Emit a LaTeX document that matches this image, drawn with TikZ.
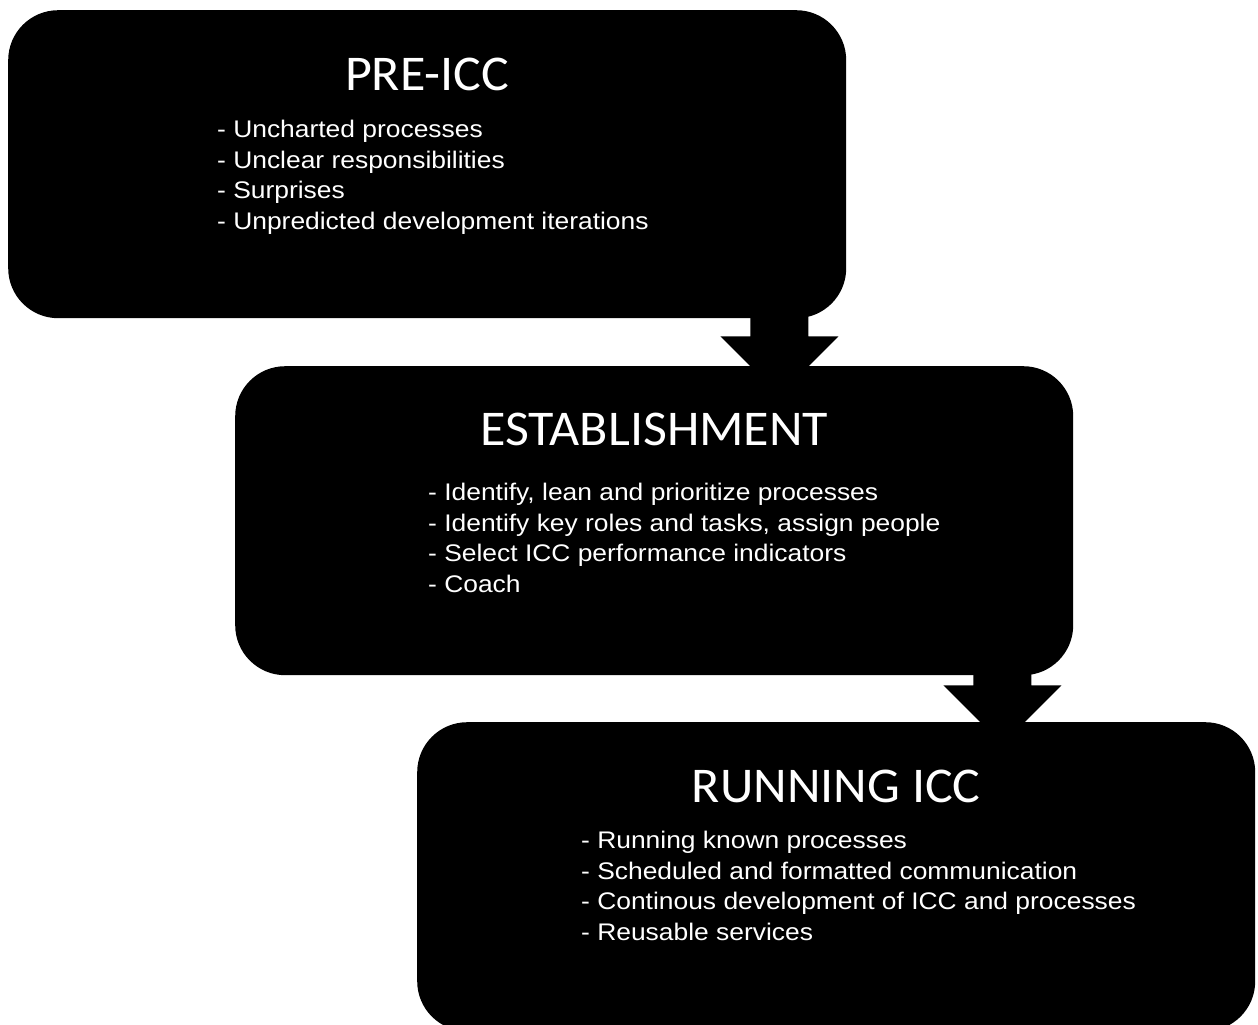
\documentclass[tikz,border=0pt]{standalone}
\usepackage{fontspec}
\setmainfont{Liberation Sans}
\newfontfamily\titlefont[FakeStretch=1.04]{Carlito}
\newfontfamily\itemfont[FakeStretch=1.10]{Liberation Sans}
\usetikzlibrary{calc}
\begin{document}
\begin{tikzpicture}[x=1pt,y=-1pt,
  stage/.style={fill=black, rounded corners=50pt, minimum width=838pt,
    minimum height=309pt, inner sep=0pt, anchor=north west},
  stagetitle/.style={text=white, inner sep=0pt, anchor=base,
    font=\titlefont\fontsize{50}{60}\selectfont},
  items/.style={text=white, inner sep=0pt, align=left, anchor=base west,
    font=\itemfont\fontsize{24}{30.5}\selectfont},
  blockarrow/.pic={\fill[black] (-29,0) -- (-29,38) -- (-59,38) -- (0,97)
    -- (59,38) -- (29,38) -- (29,0) -- cycle;}]
\useasboundingbox (0,0) rectangle (1258,1025);
\clip (0,0) rectangle (1258,1025);

% stages
\node[stage, minimum height=308pt] (pre) at (8,10) {};
\node[stage] (est) at (235,366) {};
\node[stage] (run) at (417,722) {};

% block arrows between the stages
\coordinate (a1) at ($(pre.south east)+(-67,-20)$);
\coordinate (a2) at ($(est.south east)+(-71,-28)$);
\pic at (a1) {blockarrow};
\pic at (a2) {blockarrow};

% titles
\node[stagetitle] (preT) at ($(pre.north)+(0,80)$) {PRE-ICC};
\node[stagetitle] (estT) at ($(est.north)+(0,79)$) {ESTABLISHMENT};
\node[stagetitle] (runT) at ($(run.north)+(0,80)$) {RUNNING ICC};

% item lists (anchored at the baseline of the last line)
\node[items] (preL) at ($(pre.north west)+(209,219)$) {%
  - Uncharted processes\\
  - Unclear responsibilities\\
  - Surprises\\
  - Unpredicted development iterations};
\node[items] (estL) at ($(est.north west)+(193,226)$) {%
  - Identify, lean and prioritize processes\\
  - Identify key roles and tasks, assign people\\
  - Select ICC performance indicators\\
  - Coach};
\node[items] (runL) at ($(run.north west)+(164,218)$) {%
  - Running known processes\\
  - Scheduled and formatted communication\\
  - Continous development of ICC and processes\\
  - Reusable services};
\end{tikzpicture}
\end{document}
